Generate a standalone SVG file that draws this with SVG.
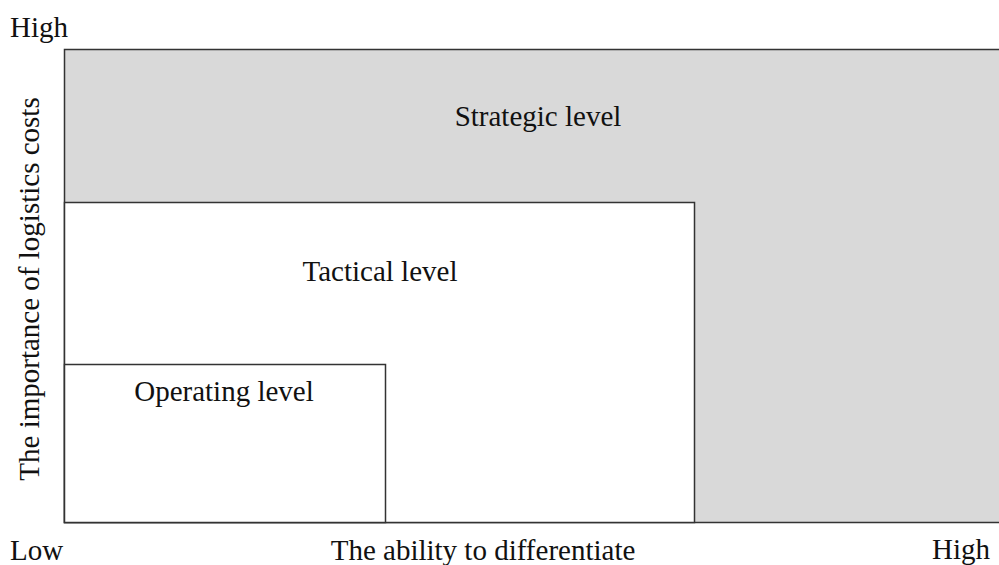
<svg xmlns="http://www.w3.org/2000/svg" width="999" height="565" viewBox="0 0 999 565">
<style>
text{font-family:"Liberation Serif","Times New Roman",serif;font-size:29px;fill:#111}
.box{stroke:#333;stroke-width:1.5}
</style>
<rect width="999" height="565" fill="#fff"/>
<g id="strategic">
<path d="M1000 49.5H64.5V522.5H1000" fill="#d9d9d9" class="box"/>
<text x="538" y="126" text-anchor="middle">Strategic level</text>
</g>
<g id="tactical">
<rect x="64.5" y="202.5" width="630" height="320" fill="#fff" class="box"/>
<text x="380" y="281" text-anchor="middle">Tactical level</text>
</g>
<g id="operating">
<rect x="64.5" y="364.5" width="321" height="158" fill="#fff" class="box"/>
<text x="224" y="401" text-anchor="middle">Operating level</text>
</g>
<g id="axes">
<text x="10" y="37">High</text>
<text x="10" y="560">Low</text>
<text x="990" y="559" text-anchor="end">High</text>
<text x="483" y="560" text-anchor="middle">The ability to differentiate</text>
<text transform="translate(39 289) rotate(-90)" text-anchor="middle">The importance of logistics costs</text>
</g>
</svg>
